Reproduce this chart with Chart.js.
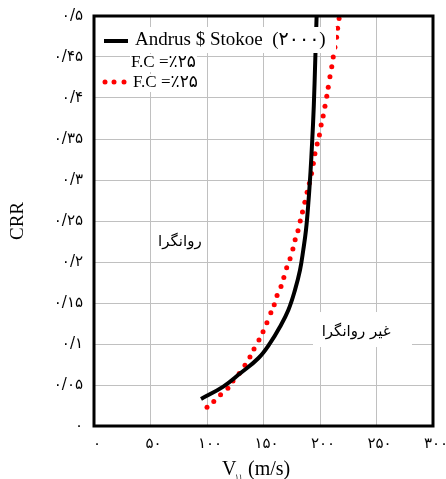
<!DOCTYPE html>
<html>
<head>
<meta charset="utf-8">
<script src="https://cdn.jsdelivr.net/npm/chart.js@4"></script>
<style>
  html, body { margin: 0; padding: 0; background: #fff; }
</style>
</head>
<body>
<canvas id="crrChart" width="446" height="479"></canvas>
<script>
// Andrus & Stokoe (2000) curve
const vsAndrus = [94.7, 114.4, 129.2, 145.4, 155.8, 164.6, 172, 177.9, 182.3, 185.2, 187.6, 189.7, 191.6, 193, 194.5, 195.8, 197];
const crrAndrus = [0.033, 0.048, 0.064, 0.0826, 0.101, 0.121, 0.1415, 0.166, 0.190, 0.2146, 0.239, 0.272, 0.31, 0.345, 0.39, 0.446, 0.5];

// dotted red series (each dot is one point)
const vsFc = [100, 106, 112, 118.5, 123, 128.5, 133.6, 138, 141.6, 146, 149.6, 153, 156.5, 159.5, 162, 165.5, 168, 170.5, 173.5, 176, 178, 180.5, 182.5, 184.5, 186.6, 188.6, 190.6, 192.5, 194.1, 195.5, 197.5, 199.5, 201, 202.8, 204.4, 206, 207.3, 208.8, 210.4, 211.7, 213.2, 214.7, 215.6, 216.9];
const crrFc = [0.023, 0.030, 0.038, 0.046, 0.055, 0.064, 0.074, 0.084, 0.094, 0.105, 0.115, 0.126, 0.138, 0.148, 0.159, 0.170, 0.181, 0.193, 0.204, 0.216, 0.227, 0.238, 0.250, 0.261, 0.273, 0.285, 0.296, 0.308, 0.320, 0.332, 0.344, 0.355, 0.367, 0.378, 0.390, 0.402, 0.413, 0.426, 0.438, 0.450, 0.462, 0.474, 0.485, 0.497];

// tick labels
const xTickLabels = ['۰', '۵۰', '۱۰۰', '۱۵۰', '۲۰۰', '۲۵۰', '۳۰۰'];
const yTickLabels = ['۰', '۰/۰۵', '۰/۱', '۰/۱۵', '۰/۲', '۰/۲۵', '۰/۳', '۰/۳۵', '۰/۴', '۰/۴۵', '۰/۵'];

const legendLabels = ['Andrus $ Stokoe  (۲۰۰۰)', 'F.C =٪۲۵', 'F.C =٪۲۵'];
const zoneLabels = ['روانگرا', 'غیر روانگرا'];

const serif = '"Liberation Serif", "DejaVu Sans", serif';
const persian = '"DejaVu Sans", sans-serif';

const toPoints = (xs, ys) => xs.map((x, i) => ({ x: x, y: ys[i] }));

// frame, legend, zone labels and x title
const overlay = {
  id: 'overlay',
  afterDatasetsDraw(chart) {
    const { ctx, chartArea: a } = chart;
    const xs = chart.scales.x, ys = chart.scales.y;
    ctx.save();

    ctx.strokeStyle = '#000';
    ctx.lineWidth = 3;
    ctx.strokeRect(a.left, a.top, a.right - a.left, a.bottom - a.top);

    // legend
    ctx.fillStyle = '#fff';
    ctx.fillRect(a.left + 6, a.top + 11, 236, 26);
    ctx.strokeStyle = '#000';
    ctx.lineWidth = 4;
    ctx.beginPath();
    ctx.moveTo(a.left + 10, a.top + 25);
    ctx.lineTo(a.left + 34, a.top + 25);
    ctx.stroke();
    ctx.fillStyle = '#000';
    ctx.font = '19px ' + serif;
    ctx.textBaseline = 'middle';
    ctx.textAlign = 'left';
    ctx.fillText(legendLabels[0], a.left + 41, a.top + 24);

    ctx.font = '17px ' + serif;
    let w = ctx.measureText(legendLabels[1]).width;
    ctx.fillStyle = '#fff';
    ctx.fillRect(a.left + 36, a.top + 38, w + 2, 18);
    ctx.fillStyle = '#000';
    ctx.fillText(legendLabels[1], a.left + 37, a.top + 47);

    w = ctx.measureText(legendLabels[2]).width;
    ctx.fillStyle = '#fff';
    ctx.fillRect(a.left + 38, a.top + 58, w + 2, 18);
    ctx.fillStyle = '#000';
    ctx.fillText(legendLabels[2], a.left + 39, a.top + 67);
    ctx.fillStyle = '#ff0000';
    [11, 20, 30].forEach(dx => {
      ctx.beginPath();
      ctx.arc(a.left + dx, a.top + 66, 2.5, 0, Math.PI * 2);
      ctx.fill();
    });

    // zone labels
    ctx.font = '15px ' + persian;
    ctx.textAlign = 'center';
    ctx.fillStyle = '#000';
    ctx.fillText(zoneLabels[0], xs.getPixelForValue(76), ys.getPixelForValue(0.224));
    const bx = xs.getPixelForValue(193.8), by = ys.getPixelForValue(0.139);
    ctx.fillStyle = '#fff';
    ctx.fillRect(bx, by, xs.getPixelForValue(281.4) - bx, ys.getPixelForValue(0.0963) - by);
    ctx.fillStyle = '#000';
    ctx.fillText(zoneLabels[1], xs.getPixelForValue(232), ys.getPixelForValue(0.1146));

    // x axis title with subscript
    ctx.textAlign = 'left';
    ctx.textBaseline = 'alphabetic';
    ctx.font = '20px ' + serif;
    ctx.fillText('V', 222, 475);
    ctx.font = '7px ' + persian;
    ctx.fillText('۱۱', 235, 479);
    ctx.font = '20px ' + serif;
    ctx.fillText('(m/s)', 248, 475);

    ctx.restore();
  }
};

const ctx = document.getElementById('crrChart').getContext('2d');
new Chart(ctx, {
  type: 'scatter',
  data: {
    datasets: [{
      label: legendLabels[0],
      data: toPoints(vsAndrus, crrAndrus),
      showLine: true,
      borderColor: '#000',
      borderWidth: 4,
      pointRadius: 0,
      tension: 0.4,
      borderCapStyle: 'butt'
    }, {
      label: legendLabels[2],
      data: toPoints(vsFc, crrFc),
      showLine: false,
      pointRadius: 2.5,
      pointBackgroundColor: '#ff0000',
      pointBorderWidth: 0
    }]
  },
  options: {
    responsive: false,
    animation: false,
    layout: { padding: { top: 16, right: 13, left: 0, bottom: 0 } },
    plugins: { legend: { display: false }, tooltip: { enabled: false } },
    scales: {
      x: {
        type: 'linear',
        min: 0, max: 300,
        afterFit: s => { s.height = 53; s.paddingLeft = 0; s.paddingRight = 0; },
        grid: { color: '#c0c0c0', lineWidth: 1, drawTicks: false },
        border: { display: false },
        ticks: {
          stepSize: 50,
          padding: 9,
          labelOffset: 3,
          color: '#000',
          font: { family: persian, size: 15 },
          callback: (v, i) => xTickLabels[i]
        }
      },
      y: {
        min: 0, max: 0.5,
        afterFit: s => { s.width = 94; s.paddingTop = 0; s.paddingBottom = 0; },
        grid: { color: '#c0c0c0', lineWidth: 1, drawTicks: false },
        border: { display: false },
        title: {
          display: true,
          text: 'CRR',
          color: '#000',
          font: { family: serif, size: 19 },
          padding: { top: 7, bottom: 0 }
        },
        ticks: {
          stepSize: 0.05,
          padding: 11,
          color: '#000',
          font: { family: persian, size: 15 },
          callback: (v, i) => yTickLabels[i]
        }
      }
    }
  },
  plugins: [overlay]
});
</script>
</body>
</html>
